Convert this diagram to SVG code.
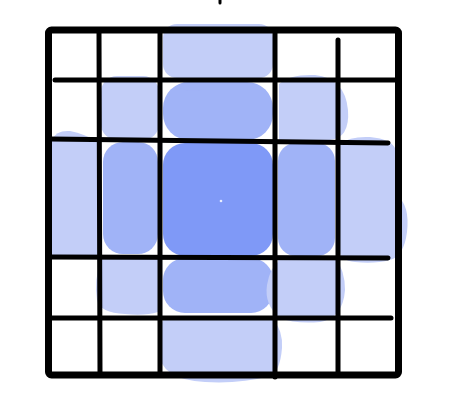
<svg xmlns="http://www.w3.org/2000/svg" width="466" height="400" viewBox="0 0 466 400">
<style>
.l{fill:#c3cef8}
.m{fill:#a0b3f7}
.d{fill:#7f99f7}
.ln{stroke:#000;stroke-linecap:round;fill:none}
</style>
<rect width="466" height="400" fill="#fff"/>
<g id="blobs">
<!-- row 1 -->
<rect class="l" x="163" y="24" width="110" height="54" rx="14"/>
<!-- row 2 -->
<rect class="l" x="101" y="76" width="58" height="64" rx="16"/>
<rect class="m" x="163" y="82" width="110" height="58" rx="26"/>
<ellipse class="m" cx="193" cy="86" rx="14" ry="5" opacity="0.6"/>
<path class="l" d="M279 84 Q290 74 315 75 Q345 78 348 110 Q350 138 330 140 L279 140 Z"/>
<!-- row 3 -->
<path class="l" d="M52 140 Q56 130 70 131 Q85 134 98 142 L98 256 L52 256 Z"/>
<rect class="m" x="103" y="142" width="55" height="112" rx="20"/>
<rect class="d" x="163" y="143" width="110" height="113" rx="22"/>
<rect class="m" x="278" y="143" width="57" height="113" rx="18"/>
<path class="l" d="M340 144 Q350 136 370 137 Q392 139 396 150 L397 196 Q410 205 407 232 Q404 256 390 260 Q375 264 355 262 Q340 260 340 252 Z"/>
<!-- row 4 -->
<path class="l" d="M101 258 L158 258 L158 312 Q145 316 125 314 Q100 313 97 300 Q94 280 101 258 Z"/>
<rect class="m" x="163" y="258" width="110" height="55" rx="22"/>
<path class="l" d="M278 258 L335 258 Q345 270 345 290 Q343 318 320 322 Q295 324 280 318 Q264 305 267 285 Q270 268 278 262 Z"/>
<!-- row 5 -->
<path class="l" d="M163 320 L273 320 Q283 330 282 348 Q280 372 270 376 Q240 384 205 382 Q160 380 158 350 Q158 330 163 320 Z"/>
<circle cx="221" cy="201" r="1.3" fill="#e8eeff"/>
</g>
<g id="grid" class="ln">
<path d="M220 0 L220 3" stroke-width="3"/>
<rect x="48.5" y="30" width="350" height="345" rx="3" stroke-width="7"/>
<path d="M99 32 L100 374" stroke-width="5"/>
<path d="M160 32 L160 374" stroke-width="5"/>
<path d="M275 32 L275 377" stroke-width="5"/>
<path d="M338 40 L338 374" stroke-width="5"/>
<path d="M55 80 L395 80" stroke-width="5"/>
<path d="M50 139 L388 143" stroke-width="5"/>
<path d="M50 257 L388 258" stroke-width="5"/>
<path d="M50 318 L391 318" stroke-width="5"/>
</g>
</svg>
